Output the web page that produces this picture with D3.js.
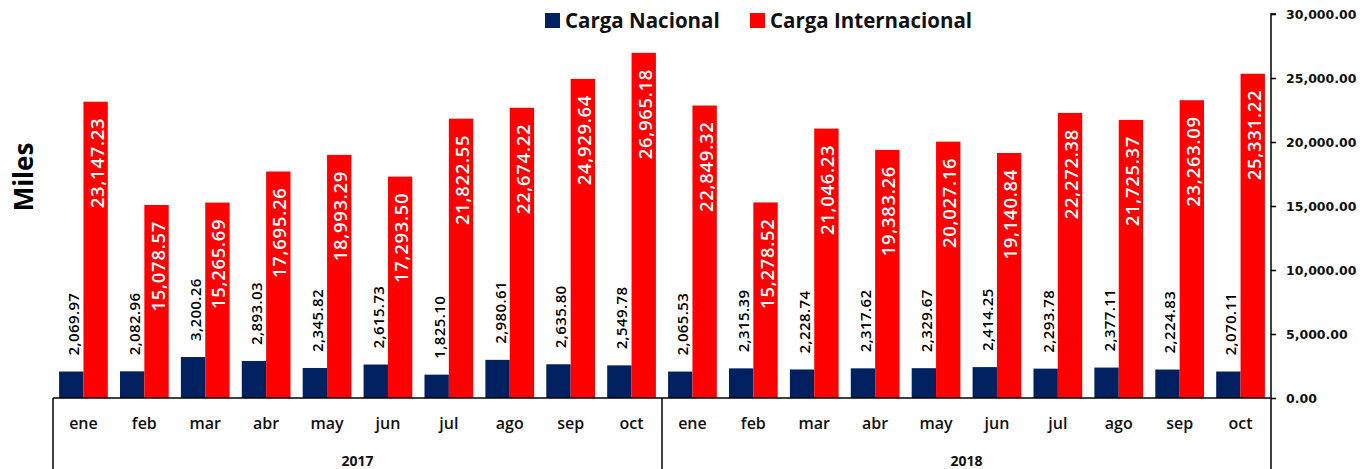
<!DOCTYPE html>
<html>
<head>
<meta charset="utf-8">
<script src="https://cdn.jsdelivr.net/npm/d3@7/dist/d3.min.js"></script>
<style>
  body { margin: 0; background: #fff; }
  svg { display: block; font-family: "Open Sans", "DejaVu Sans", sans-serif; }
</style>
</head>
<body>
<div id="root"></div>
<script>
// data
const years = ["2017", "2018"]
const months = ["ene", "feb", "mar", "abr", "may", "jun", "jul", "ago", "sep", "oct"]
const nacional = [2069.97, 2082.96, 3200.26, 2893.03, 2345.82, 2615.73, 1825.10, 2980.61, 2635.80, 2549.78,
                  2065.53, 2315.39, 2228.74, 2317.62, 2329.67, 2414.25, 2293.78, 2377.11, 2224.83, 2070.11]
const internacional = [23147.23, 15078.57, 15265.69, 17695.26, 18993.29, 17293.50, 21822.55, 22674.22, 24929.64, 26965.18,
                       22849.32, 15278.52, 21046.23, 19383.26, 20027.16, 19140.84, 22272.38, 21725.37, 23263.09, 25331.22]
const series = ["Carga Nacional", "Carga Internacional"]
const yTicks = [0, 5000, 10000, 15000, 20000, 25000, 30000]

const W = 1368, H = 469
const plotL = 53, plotR = 1271, plotT = 14, base = 398
const colors = d3.scaleOrdinal(series, ["#002060", "#FF0000"])

const rows = years.flatMap((yr, i) => months.map((m, j) => {
    const k = i * months.length + j
    return {key: yr + "-" + m, year: yr, month: m, nac: nacional[k], int: internacional[k]}
}))

const svg = d3.select("#root").append("svg").attr("width", W).attr("height", H)

const x = d3.scaleBand().domain(rows.map(d => d.key)).range([plotL, plotR]).paddingInner(0.2).paddingOuter(0.1)
const xs = d3.scaleBand().domain(series).range([0, x.bandwidth()])
const y = d3.scaleLinear().domain([0, 30000]).range([base, plotT])
const fmt = d3.format(",.2f")

// bars
const g = svg.append("g").selectAll("g").data(rows).join("g")
    .attr("transform", d => `translate(${x(d.key)},0)`)

g.append("rect")
    .attr("x", xs(series[0])).attr("width", xs.bandwidth())
    .attr("y", d => y(d.nac)).attr("height", d => base - y(d.nac))
    .attr("fill", colors(series[0]))
g.append("rect")
    .attr("x", xs(series[1])).attr("width", xs.bandwidth())
    .attr("y", d => y(d.int)).attr("height", d => base - y(d.int))
    .attr("fill", colors(series[1]))

// value labels
g.append("text")
    .attr("transform", d => `translate(${xs(series[0]) + xs.bandwidth() / 2 + 8},${y(d.nac) - 16}) rotate(-90)`)
    .attr("font-size", 15).attr("font-weight", 600).attr("letter-spacing", 0.4).attr("fill", "#000")
    .text(d => fmt(d.nac))
g.append("text")
    .attr("transform", d => `translate(${xs(series[1]) + xs.bandwidth() / 2 + 8},${y(d.int) + 16}) rotate(-90)`)
    .attr("text-anchor", "end")
    .attr("font-size", 18.5).attr("font-weight", 600).attr("letter-spacing", 0.7).attr("fill", "#fff")
    .text(d => fmt(d.int))

// right axis
const yAxis = svg.append("g").attr("transform", `translate(${plotR},0)`)
    .call(d3.axisRight(y).tickValues(yTicks).tickFormat(fmt).tickSize(5).tickPadding(10))
yAxis.select(".domain").attr("d", `M5,${plotT}H0V${H}`).attr("stroke", "#000").attr("stroke-width", 1.5)
yAxis.selectAll(".tick line").attr("stroke", "#000").attr("stroke-width", 1.5)
yAxis.selectAll(".tick text").attr("font-weight", 700).attr("fill", "#111")
    .attr("font-family", "Verdana, 'DejaVu Sans', sans-serif").attr("font-size", 12.5)

// baseline and category separators
svg.append("line").attr("x1", plotL).attr("x2", plotR).attr("y1", base).attr("y2", base)
    .attr("stroke", "#000").attr("stroke-width", 1.5)
const split = (x(rows[months.length - 1].key) + x.bandwidth() + x(rows[months.length].key)) / 2
;[plotL, split].forEach(px => {
    svg.append("line").attr("x1", px).attr("x2", px).attr("y1", base).attr("y2", H)
        .attr("stroke", "#000").attr("stroke-width", 1.5)
})

// month labels
svg.append("g").selectAll("text").data(rows).join("text")
    .attr("x", d => x(d.key) + x.bandwidth() / 2).attr("y", 429)
    .attr("text-anchor", "middle").attr("font-size", 16).attr("font-weight", 600).attr("fill", "#111")
    .text(d => d.month)

// year labels
const yearX = [(plotL + split) / 2, (split + plotR) / 2]
svg.append("g").selectAll("text").data(years).join("text")
    .attr("x", (d, i) => yearX[i]).attr("y", 466)
    .attr("text-anchor", "middle").attr("font-size", 14).attr("font-weight", 700).attr("fill", "#111")
    .text(d => d)

// y title
svg.append("text")
    .attr("transform", "translate(33,177) rotate(-90)")
    .attr("text-anchor", "middle").attr("font-size", 26).attr("font-weight", 700).attr("fill", "#000")
    .text("Miles")

// legend
const legendX = [545, 750]
const lg = svg.append("g").selectAll("g").data(series).join("g")
    .attr("transform", (d, i) => `translate(${legendX[i]},12)`)
lg.append("rect").attr("width", 15).attr("height", 15).attr("y", 1).attr("fill", d => colors(d))
lg.append("text").attr("x", 20).attr("y", 16)
    .attr("font-size", 20.5).attr("font-weight", 700).attr("fill", "#111")
    .text(d => d)
</script>
</body>
</html>
